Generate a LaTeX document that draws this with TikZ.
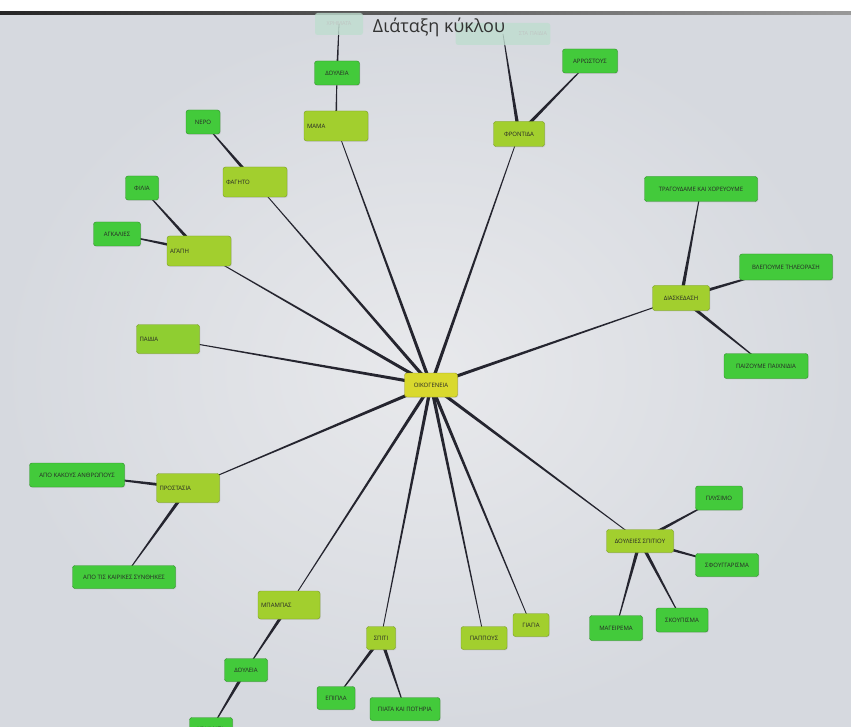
\documentclass[tikz,border=0pt]{standalone}
\usepackage{fontspec}
\setmainfont{Open Sans}
\usetikzlibrary{calc, shadows}
\definecolor{screengray}{HTML}{D6D9DF}
\definecolor{screenlight}{HTML}{E8E9EC}
\definecolor{limefill}{HTML}{A2CF2E}
\definecolor{leaffill}{HTML}{43CA3B}
\definecolor{rootfill}{HTML}{D9D92E}
\definecolor{fadedfill}{HTML}{BFDDCF}
\definecolor{linkdark}{HTML}{25252F}
\pgfdeclarelayer{bg}
\pgfdeclarelayer{links}
\pgfsetlayers{bg,links,main}
% tapered connector: thick at the first node, thin at the second
\newcommand{\taper}[3]{%
  \fill[linkdark] ($(#1)!#3!90:(#2)$) -- ($(#1)!#3!-90:(#2)$)
    -- ($(#2)!0.35pt!90:(#1)$) -- ($(#2)!0.35pt!-90:(#1)$) -- cycle;}

\begin{document}
\begin{tikzpicture}[
    x=1pt, y=-1pt,
    topic/.style={rounded corners=2.5pt, draw=limefill!75!black, fill=limefill, minimum height=30pt, inner sep=3pt, font=\fontsize{6}{7}\selectfont, text=black!85, drop shadow={opacity=0.2, shadow xshift=0.8pt, shadow yshift=-0.8pt}},
    bigtopic/.style={topic, text width=#1, align=left},
    leaf/.style={topic, fill=leaffill, draw=leaffill!70!black, minimum height=24pt},
    faded/.style={rounded corners=2.5pt, fill=fadedfill, minimum height=22pt, font=\fontsize{5.5}{6.5}\selectfont, text=black!25, opacity=0.8}
]
    \useasboundingbox (0,0) rectangle (851,727);

    % Screen
    \begin{pgfonlayer}{bg}
        \fill[white] (0,0) rectangle (851,727);
        \shade[inner color=screenlight, outer color=screengray] (0,14) rectangle (851,727);
        \shade[left color=black!85, right color=black!40] (0,12) rectangle (851,15);
    \end{pgfonlayer}

    % Centre
    \node[topic, fill=rootfill, draw=rootfill!70!black, minimum width=53pt, minimum height=24pt] (family) at (431,385) {ΟΙΚΟΓΕΝΕΙΑ};

    % Upper branches
    \node[bigtopic=58pt] (mama) at (336,126) {ΜΑΜΑ};
    \node[leaf, minimum width=45pt] (mamajob) at (337,73) {ΔΟΥΛΕΙΑ};
    \node[faded, minimum width=48pt] (money) at (339,24) {ΧΡΗΜΑΤΑ};
    \node[topic, minimum width=51pt, minimum height=25pt] (care) at (519,134) {ΦΡΟΝΤΙΔΑ};
    \node[faded, text width=88pt, align=right] (kids) at (503,34) {ΣΤΑ ΠΑΙΔΙΑ};
    \node[leaf, minimum width=55pt] (sick) at (590,61) {ΑΡΡΩΣΤΟΥΣ};
    \node[bigtopic=58pt] (food) at (255,182) {ΦΑΓΗΤΟ};
    \node[leaf, minimum width=34pt] (water) at (203,122) {ΝΕΡΟ};
    \node[bigtopic=58pt] (love) at (199,251) {ΑΓΑΠΗ};
    \node[leaf, minimum width=33pt] (kiss) at (142,188) {ΦΙΛΙΑ};
    \node[leaf, minimum width=47pt] (hugs) at (117,234) {ΑΓΚΑΛΙΕΣ};
    \node[bigtopic=57pt, fill=limefill!80!leaffill, minimum height=29pt] (children) at (168,339) {ΠΑΙΔΙΑ};

    % Title over the faded boxes
    \node[font=\fontsize{18}{21}\selectfont, text=black!80] (title) at (439,27) {Διάταξη κύκλου};

    % Right branches
    \node[topic, minimum width=57pt, minimum height=25pt] (fun) at (681,298) {ΔΙΑΣΚΕΔΑΣΗ};
    \node[leaf, minimum width=113pt, minimum height=25pt] (sing) at (701,189) {ΤΡΑΓΟΥΔΑΜΕ ΚΑΙ ΧΟΡΕΥΟΥΜΕ};
    \node[leaf, minimum width=93pt, minimum height=26pt] (tv) at (786,267) {ΒΛΕΠΟΥΜΕ ΤΗΛΕΟΡΑΣΗ};
    \node[leaf, minimum width=84pt, minimum height=25pt] (games) at (766,366) {ΠΑΙΖΟΥΜΕ ΠΑΙΧΝΙΔΙΑ};
    \node[topic, minimum width=67pt, minimum height=23pt] (chores) at (640,541) {ΔΟΥΛΕΙΕΣ ΣΠΙΤΙΟΥ};
    \node[leaf, minimum width=47pt] (wash) at (719,498) {ΠΛΥΣΙΜΟ};
    \node[leaf, minimum width=63pt, minimum height=23pt] (mop) at (727,565) {ΣΦΟΥΓΓΑΡΙΣΜΑ};
    \node[leaf, minimum width=52pt] (sweep) at (682,620) {ΣΚΟΥΠΙΣΜΑ};
    \node[leaf, minimum width=53pt, minimum height=25pt] (cook) at (616,628) {ΜΑΓΕΙΡΕΜΑ};

    % Lower and left branches
    \node[bigtopic=57pt, minimum height=29pt] (protect) at (188,488) {ΠΡΟΣΤΑΣΙΑ};
    \node[leaf, minimum width=95pt] (people) at (77,475) {ΑΠΟ ΚΑΚΟΥΣ ΑΝΘΡΩΠΟΥΣ};
    \node[leaf, minimum width=103pt, minimum height=23pt] (weather) at (124,577) {ΑΠΟ ΤΙΣ ΚΑΙΡΙΚΕΣ ΣΥΝΘΗΚΕΣ};
    \node[bigtopic=56pt, minimum height=28pt] (dad) at (289,605) {ΜΠΑΜΠΑΣ};
    \node[leaf, minimum width=43pt, minimum height=23pt] (dadjob) at (246,670) {ΔΟΥΛΕΙΑ};
    \node[leaf, minimum width=43pt, minimum height=23pt] (dadmoney) at (211,729) {ΧΡΗΜΑΤΑ};
    \node[topic, minimum width=29pt, minimum height=23pt] (house) at (381,638) {ΣΠΙΤΙ};
    \node[leaf, minimum width=38pt, minimum height=23pt] (furniture) at (336,698) {ΕΠΙΠΛΑ};
    \node[leaf, minimum width=70pt, minimum height=23pt] (dishes) at (405,709) {ΠΙΑΤΑ ΚΑΙ ΠΟΤΗΡΙΑ};
    \node[topic, minimum width=46pt, minimum height=23pt] (grandpa) at (484,638) {ΠΑΠΠΟΥΣ};
    \node[topic, minimum width=36pt, minimum height=23pt] (grandma) at (531,625) {ΓΙΑΓΙΑ};

    % Connections
    \begin{pgfonlayer}{links}
        \foreach \n in {mama, care, food, love, children, fun, protect, chores, dad, house, grandpa, grandma}
            {\taper{family}{\n}{1.7pt}}
        \taper{mama}{mamajob}{1pt}
        \taper{mamajob}{money}{1pt}
        \taper{care}{kids}{1.8pt}
        \taper{care}{sick}{1.8pt}
        \taper{food}{water}{1.8pt}
        \taper{love}{kiss}{1.8pt}
        \taper{love}{hugs}{1.8pt}
        \foreach \n in {sing, tv, games} {\taper{fun}{\n}{1.8pt}}
        \taper{protect}{people}{1.8pt}
        \taper{protect}{weather}{1.8pt}
        \foreach \n in {wash, mop, sweep, cook} {\taper{chores}{\n}{1.8pt}}
        \taper{dad}{dadjob}{1.8pt}
        \taper{dadjob}{dadmoney}{1.8pt}
        \taper{house}{furniture}{1.8pt}
        \taper{house}{dishes}{1.8pt}
    \end{pgfonlayer}
\end{tikzpicture}
\end{document}
